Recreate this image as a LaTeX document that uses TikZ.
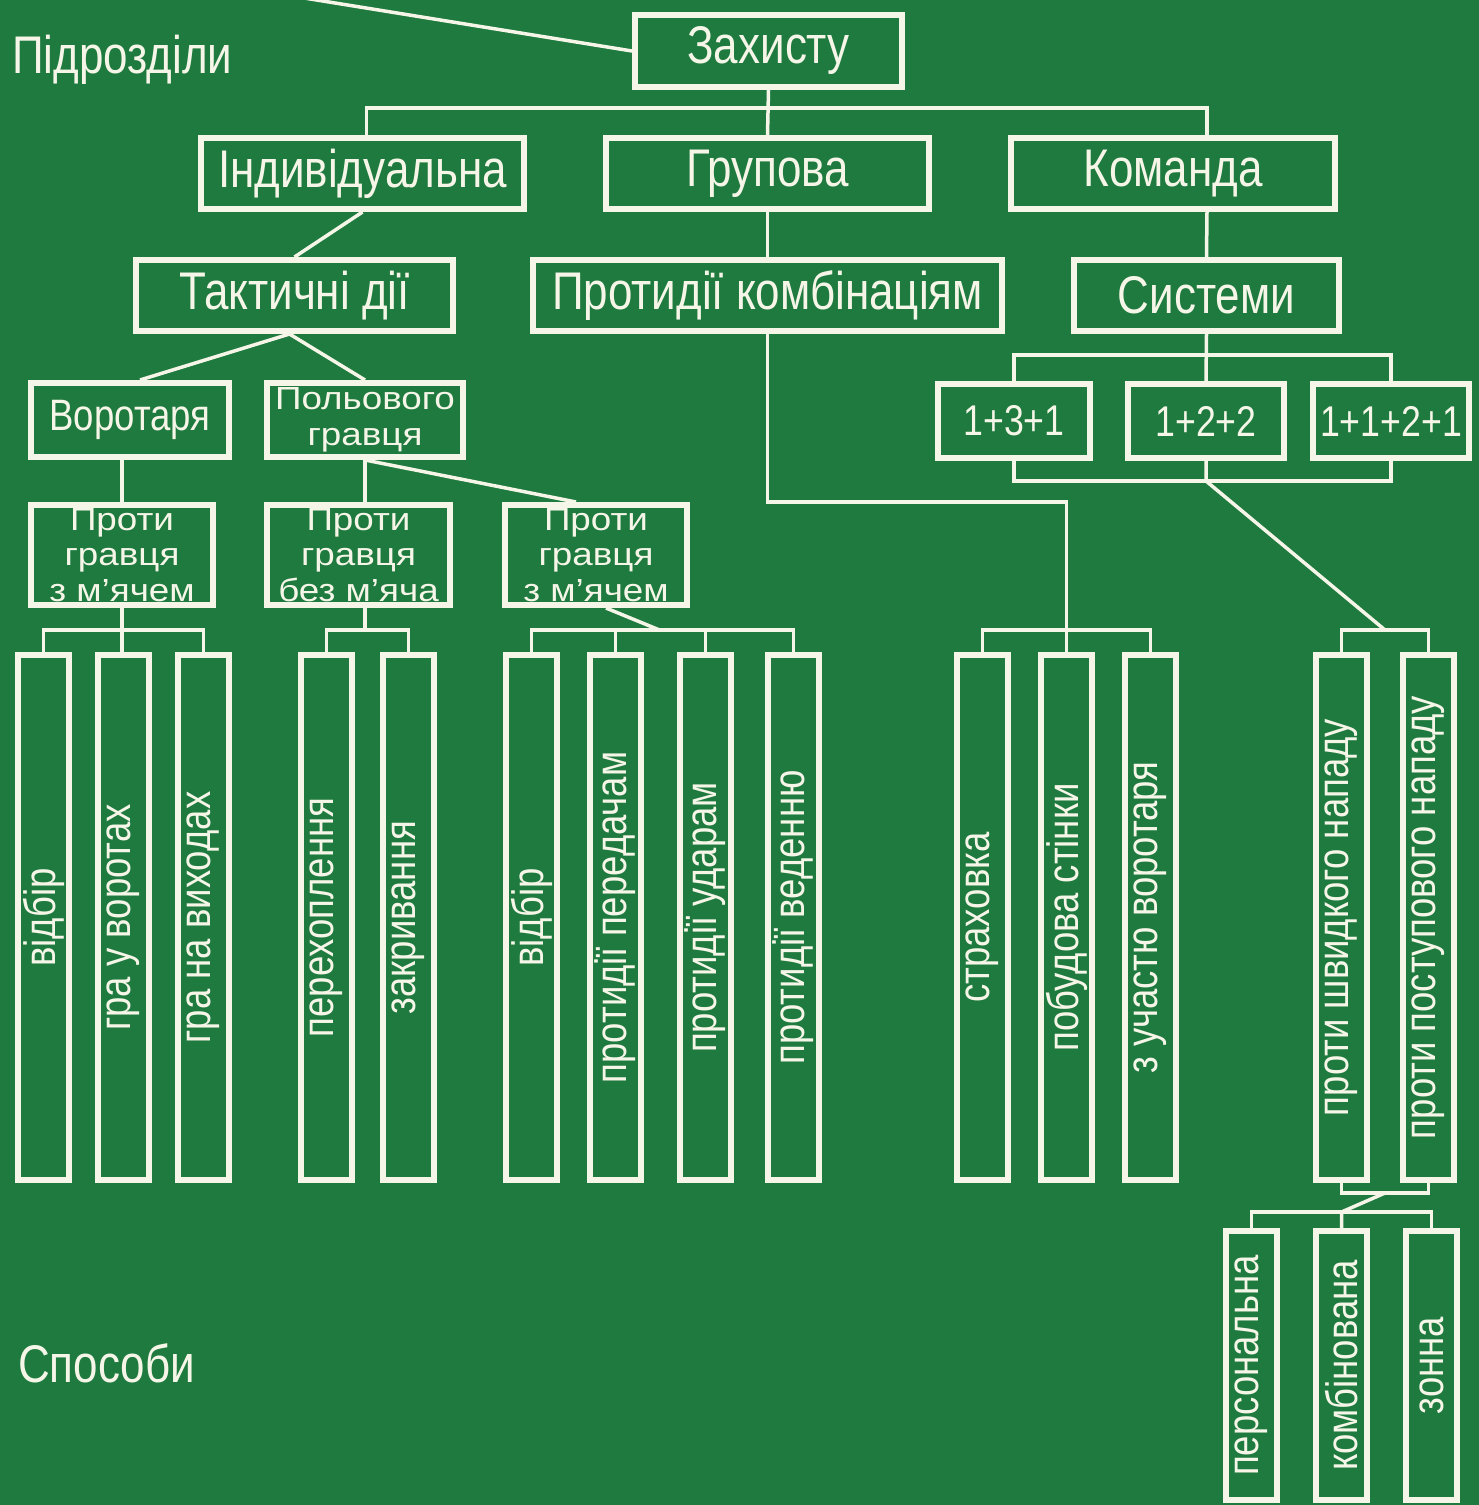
\documentclass[tikz,border=0pt]{standalone}
\usepackage{fontspec}
\usepackage{graphicx}
\setmainfont{Liberation Sans}
\newfontfamily\narrowsf{Liberation Sans}[FakeStretch=0.83]
\newfontfamily\widesf{Liberation Sans}[FakeStretch=1.15]
\definecolor{field}{RGB}{30,122,62}
\definecolor{chalk}{RGB}{246,246,232}

\begin{document}
\begin{tikzpicture}[x=1pt, y=-1pt,
    box/.style={draw=chalk, line width=6pt, inner sep=0pt, text=chalk, align=center},
    link/.style={draw=chalk, line width=3.5pt},
    big/.style={font=\narrowsf\fontsize{53}{56}\selectfont},
    mid/.style={font=\narrowsf\fontsize{44}{29}\selectfont},
    pair/.style={font=\widesf\fontsize{32}{36}\selectfont},
    three/.style={font=\widesf\fontsize{32}{35.5}\selectfont},
    sys/.style={font=\narrowsf\fontsize{43}{46}\selectfont},
    tall/.style={font=\narrowsf\fontsize{44}{48}\selectfont}]
            \def\bx#1#2#3#4#5#6#7{\node[box, #7, minimum width={#4-#2-6}, minimum height={#5-#3-6}] (#1) at ({(#2+#4)/2},{(#3+#5)/2}) {#6};}
            \def\rowy{917.5}
            \def\lowy{1365.5}
            \fill[field] (0,0) rectangle (1479,1505);
            \useasboundingbox (0,0) rectangle (1479,1505);
            \node[big, text=chalk, inner sep=0pt, anchor=west] (pidr) at (12,60) {Підрозділи};
            \node[big, text=chalk, inner sep=0pt, anchor=west] (sposob) at (18,1363) {Способи};
            \bx{zakh}{632}{12}{905}{90}{Захисту}{big}
            \bx{indyv}{198}{135}{527}{212}{Індивідуальна}{big}
            \bx{grup}{603}{135}{932}{212}{Групова}{big}
            \bx{koman}{1008}{135}{1338}{212}{Команда}{big}
            \bx{takt}{133}{257}{456}{334}{Тактичні дії}{big}
            \bx{protk}{530}{257}{1005}{334}{Протидії комбінаціям}{big}
            \bx{syst}{1071}{257}{1342}{334}{Системи}{big}
            \bx{vorot}{28}{380}{232}{460}{Воротаря}{mid}
            \bx{polov}{264}{380}{466}{460}{Польового\\гравця}{pair}
            \bx{s131}{935}{381}{1093}{461}{1+3+1}{sys}
            \bx{s122}{1125}{381}{1287}{461}{1+2+2}{sys}
            \bx{s1121}{1310}{381}{1472}{461}{1+1+2+1}{sys}
            \bx{pv1}{28}{502}{216}{608}{Проти\\гравця\\з м’ячем}{three}
            \bx{pv2}{264}{502}{453}{608}{Проти\\гравця\\без м’яча}{three}
            \bx{pv3}{502}{502}{690}{608}{Проти\\гравця\\з м’ячем}{three}
            \foreach \nm/\xl/\txt in {a1/15/відбір, a2/95/гра у воротах, a3/175/гра на виходах,
                b1/298/перехоплення, b2/380/закривання,
                c1/503/відбір, c2/587/протидії передачам, c3/677/протидії ударам, c4/765/протидії веденню,
                d1/954/страховка, d2/1038/побудова стінки, d3/1122/з участю воротаря,
                e1/1313/проти швидкого нападу, e2/1400/проти поступового нападу}
                \node[box, tall, minimum width=51pt, minimum height=525pt] (\nm) at ({\xl+28.5},\rowy) {\rotatebox{90}{\txt}};
            \foreach \nm/\xl/\txt in {f1/1223/персональна, f2/1313/комбінована, f3/1403/зонна}
                \node[box, tall, minimum width=51pt, minimum height=269pt] (\nm) at ({\xl+28.5},\lowy) {\rotatebox{90}{\txt}};
            \coordinate (topend) at (298,-3);
            \draw[link] (topend) -- (zakh.west);
            \draw[link] (zakh.south) -- (grup.north);
            \draw[link] ([xshift=4pt]indyv.north) -- ++(0,-27) -| ([xshift=34pt]koman.north);
            \draw[link] (indyv.south) -- (takt.north);
            \draw[link] (grup.south) -- (protk.north);
            \draw[link] ([xshift=34pt]koman.south) -- (syst.north);
            \draw[link] ([xshift=-5pt]takt.south) -- ([xshift=10pt]vorot.north);
            \draw[link] ([xshift=-5pt]takt.south) -- (polov.north);
            \draw[link] (syst.south) -- (s122.north);
            \draw[link] (s131.north) -- ++(0,-26) -| (s1121.north);
            \draw[link] (s131.south) -- ++(0,20) -| (s1121.south);
            \draw[link] (vorot.south -| pv1.north) -- (pv1.north);
            \draw[link] (polov.south) -- (polov.south |- pv2.north);
            \draw[link] (polov.south) -- ([xshift=-20pt]pv3.north);
            \draw[link] (a1.north) -- ++(0,-22) -| (a3.north);
            \draw[link] (pv1.south) -- (pv1.south |- a2.north);
            \draw[link] (b1.north) -- ++(0,-22) -| (b2.north);
            \draw[link] (pv2.south -| polov.south) -- ++(0,22);
            \draw[link] (c1.north) -- ++(0,-22) coordinate (cbus) -| (c4.north);
            \draw[link] (c2.north) -- ++(0,-22);
            \draw[link] (c3.north) -- ++(0,-22);
            \draw[link] ([xshift=10pt]pv3.south) -- ([xshift=128pt]cbus);
            \draw[link] (d1.north) -- ++(0,-22) -| (d3.north);
            \draw[link] (protk.south) -- ++(0,168) -| (d2.north);
            \draw[link] (e1.north) -- ++(0,-22) coordinate (ebus) -| (e2.north);
            \draw[link] (s122.south) -- ++(0,20) -- ([xshift=43.5pt]ebus);
            \draw[link] (e1.south) -- ++(0,10) coordinate (elow) -| (e2.south);
            \draw[link] (f1.north) -- ++(0,-16) -| (f3.north);
            \draw[link] ([xshift=43.5pt]elow) -- ([yshift=16pt]f2.north) -- (f2.north);
        \end{tikzpicture}
\end{document}
